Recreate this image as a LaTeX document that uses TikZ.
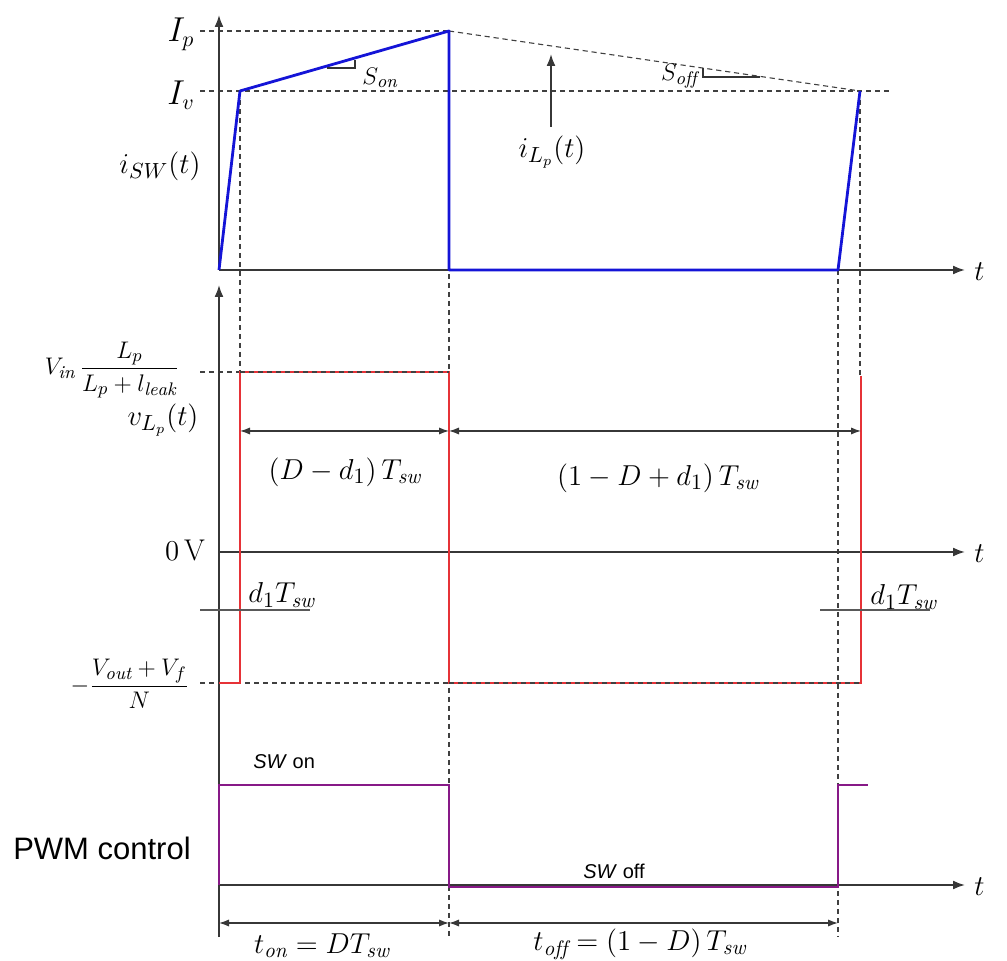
\documentclass[tikz,border=0pt]{standalone}
\usepackage{fontspec}
\usepackage{amsmath}
\newfontfamily\sansf{Liberation Sans}
\usetikzlibrary{arrows.meta}
\definecolor{axisc}{RGB}{55,55,55}
\definecolor{bluec}{RGB}{20,20,215}
\definecolor{redc}{RGB}{230,50,55}
\definecolor{purpc}{RGB}{135,25,135}
\newcommand{\sub}[1]{\mathit{#1}}
\begin{document}
\begin{tikzpicture}[x=0.5pt,y=-0.5pt,
  axis/.style={draw=axisc,line width=0.9pt,-{Latex[length=6pt,width=4.5pt]}},
  dashline/.style={draw=black!75,line width=0.55pt,dash pattern=on 2.6pt off 1.9pt},
  dimarrow/.style={draw=axisc,line width=0.6pt,{Latex[length=5pt,width=3.6pt]}-{Latex[length=5pt,width=3.6pt]}},
  tick/.style={draw=black!65,line width=0.8pt},
  wblue/.style={draw=bluec,line width=1.4pt,line join=round},
  wred/.style={draw=redc,line width=0.7pt},
  wpurp/.style={draw=purpc,line width=1.3pt},
  lab/.style={inner sep=0pt,font=\fontsize{15}{18}\selectfont},
  slab/.style={inner sep=0pt,font=\sansf\fontsize{10}{12}\selectfont}]
\useasboundingbox (0,0) rectangle (1007,961);
% ---------- coordinates
\coordinate (o1) at (219,270);
\coordinate (top1) at (219,15);
\coordinate (ax1) at (965,270);
\coordinate (bot) at (219,937);
\coordinate (top2) at (219,285);
\coordinate (ax2o) at (219,552);
\coordinate (ax2) at (965,552);
\coordinate (ax3o) at (219,885);
\coordinate (ax3) at (965,885);
% current waveform
\coordinate (c1) at (240,91);
\coordinate (c2) at (449,31);
\coordinate (c3) at (449,270);
\coordinate (c4) at (838,270);
\coordinate (c5) at (860,91);
% ---------- dashed guides
\draw[dashline] (200,31) -- (c2);
\draw[dashline] (c2) -- (c5);
\draw[dashline] (200,91) -- (890,91);
\draw[dashline] (c1) -- (240,372);
\draw[dashline] (c2) -- (449,937);
\draw[dashline] (c4) -- (838,937);
\draw[dashline] (c5) -- (860,376);
\draw[dashline] (200,372) -- (449,372);
\draw[dashline] (200,683) -- (861,683);
% ---------- axes
\draw[axis] (o1) -- (top1);
\draw[axis] (o1) -- (ax1);
\draw[axis] (bot) -- (top2);
\draw[axis] (ax2o) -- (ax2);
\draw[axis] (ax3o) -- (ax3);
\node[lab,anchor=west] (t1) at (974,272) {$t$};
\node[lab,anchor=west] (t2) at (974,554) {$t$};
\node[lab,anchor=west] (t3) at (974,887) {$t$};
% ---------- current
\draw[wblue] (o1) -- (c1) -- (c2) -- (c3) -- (c4) -- (c5);
% slope marks
\coordinate (son1) at (327,68);
\coordinate (son2) at (355,68);
\coordinate (son3) at (355,60);
\draw[draw=black!80,line width=0.6pt] (son1) -- (son2) -- (son3);
\node[lab,anchor=west,font=\fontsize{13}{15}\selectfont] (Son) at (362,78) {$S_{\sub{on}}$};
\coordinate (sof1) at (703,68);
\coordinate (sof2) at (703,77);
\coordinate (sof3) at (760,77);
\draw[draw=black!80,line width=0.6pt] (sof1) -- (sof2) -- (sof3);
\node[lab,anchor=east,font=\fontsize{13}{15}\selectfont] (Soff) at (698,76) {$S_{\sub{off}}$};
% iLp arrow
\node[lab] (iLp) at (552,152) {$i_{L_p}\!\left(t\right)$};
\coordinate (iLptip) at (551,54);
\coordinate (iLpbase) at (551,127);
\draw[draw=axisc,line width=0.9pt,-{Latex[length=6pt,width=4.5pt]}] (iLpbase) -- (iLptip);
% left labels top
\node[lab,font=\fontsize{16}{18}\selectfont] (Ip) at (181,34) {$I_p$};
\node[lab,font=\fontsize{16}{18}\selectfont] (Iv) at (181,95) {$I_v$};
\node[lab] (isw) at (160,166) {$i_{SW}\!\left(t\right)$};
% ---------- voltage
\draw[wred] (219,683) -- (240,683) -- (240,372) -- (449,372) -- (449,683) -- (861,683) -- (861,376);
\draw[dashline] (240,372) -- (449,372);
\draw[dashline] (449,683) -- (861,683);
\coordinate (d1) at (240,431);
\coordinate (d2) at (449,431);
\coordinate (d3) at (861,431);
\draw[dimarrow] (d1) -- (d2);
\draw[dimarrow] (d2) -- (d3);
\node[lab] (Dd) at (345,472) {$\left(D-d_1\right)T_{\sub{sw}}$};
\node[lab] (1Dd) at (658,478) {$\left(1-D+d_1\right)T_{\sub{sw}}$};
\draw[tick] (200,610) -- (310,610);
\draw[tick] (820,610) -- (930,610);
\node[lab,anchor=west] (dT1) at (248,595) {$d_1T_{\sub{sw}}$};
\node[lab,anchor=west] (dT2) at (870,597) {$d_1T_{\sub{sw}}$};
\node[lab,font=\fontsize{13}{15}\selectfont] (Vin) at (112,370) {$V_{\sub{in}}\,\dfrac{L_p}{L_p+l_{\sub{leak}}}$};
\node[lab] (vLp) at (163,420) {$v_{L_p}\!\left(t\right)$};
\node[lab] (zeroV) at (185,550) {$0\,\mathrm{V}$};
\node[lab,font=\fontsize{13}{15}\selectfont] (Vout) at (130,684) {$-\dfrac{V_{\sub{out}}+V_f}{N}$};
% ---------- PWM
\draw[wpurp] (ax3o) -- (219,785) -- (449,785) -- (449,887) -- (838,887) -- (838,785) -- (868,785);
\node[slab,anchor=west] (swon) at (253,762) {\textit{SW} on};
\node[slab,anchor=west] (swoff) at (583,871) {\textit{SW} off};
\node[inner sep=0pt,font=\sansf\fontsize{15.5}{18}\selectfont] (pwm) at (102,848) {PWM control};
\coordinate (e1) at (219,923);
\coordinate (e2) at (449,923);
\coordinate (e3) at (838,923);
\draw[dimarrow] (e1) -- (e2);
\draw[dimarrow] (e2) -- (e3);
\node[lab] (ton) at (322,946) {$t_{\sub{on}}=DT_{\sub{sw}}$};
\node[lab] (toff) at (640,944) {$t_{\sub{off}}=\left(1-D\right)T_{\sub{sw}}$};
\end{tikzpicture}
\end{document}
